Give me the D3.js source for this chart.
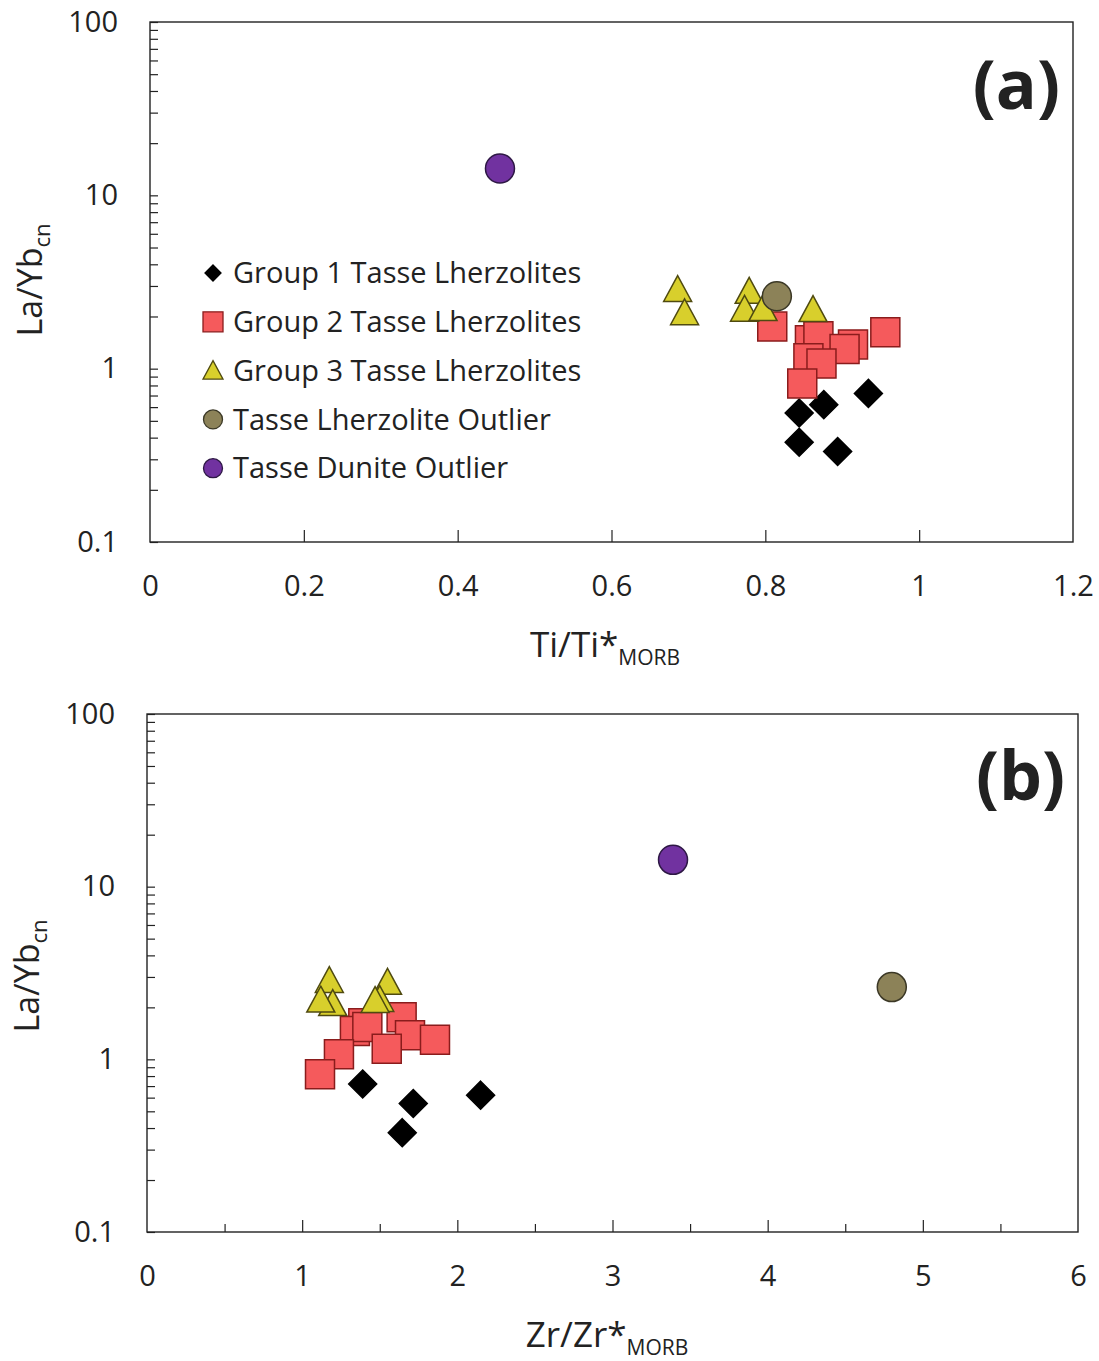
<!DOCTYPE html>
<html>
<head>
<meta charset="utf-8">
<script src="https://cdn.jsdelivr.net/npm/d3@7"></script>
<style>
  body { margin: 0; background: #fff; }
  text { font-family: "Open Sans", sans-serif; fill: #222; }
</style>
</head>
<body>
<svg id="chart" width="1099" height="1361"></svg>
<script>
// series names
const groups = [
  "Group 1 Tasse Lherzolites",
  "Group 2 Tasse Lherzolites",
  "Group 3 Tasse Lherzolites",
  "Tasse Lherzolite Outlier",
  "Tasse Dunite Outlier"
];

// group 1 (diamonds)
const g1La = [0.555, 0.62, 0.72, 0.376, 0.333];
const g1Ti = [0.844, 0.876, 0.934, 0.844, 0.894];
const g1Zr = [1.716, 2.15, 1.39, 1.645, null];

// group 2 (squares)
const g2La = [1.75, 1.62, 1.46, 1.54, 1.38, 1.30, 1.15, 1.07, 0.82];
const g2Ti = [0.809, 0.956, 0.858, 0.869, 0.914, 0.903, 0.856, 0.873, 0.848];
const g2Zr = [1.641, 1.394, 1.34, 1.42, 1.695, 1.856, 1.545, 1.237, 1.115];

// group 3 (triangles)
const g3La = [2.86, 2.10, 2.79, 2.20, 2.22, 2.19];
const g3Ti = [0.686, 0.695, 0.779, 0.773, 0.797, 0.862];
const g3Zr = [1.175, 1.197, 1.55, 1.12, 1.50, 1.47];

// outliers
const lhzLa = [2.62], lhzTi = [0.815], lhzZr = [4.80];
const dunLa = [14.3], dunTi = [0.455], dunZr = [3.39];

const xTicksA = [0, 0.2, 0.4, 0.6, 0.8, 1, 1.2];
const xTicksB = [0, 1, 2, 3, 4, 5, 6];
const yDecades = [0.1, 1, 10, 100];

const styles = [
  { shape: "diamond", fill: "#000", stroke: "#000" },
  { shape: "square", fill: "#f55a5c", stroke: "#8a1c1c" },
  { shape: "triangle", fill: "#d8cf2c", stroke: "#4f4a10" },
  { shape: "circle", fill: "#8c8258", stroke: "#3b3826" },
  { shape: "circle", fill: "#7132a0", stroke: "#2e1845" }
];

const series = [
  { la: g1La, ti: g1Ti, zr: g1Zr },
  { la: g2La, ti: g2Ti, zr: g2Zr },
  { la: g3La, ti: g3Ti, zr: g3Zr },
  { la: lhzLa, ti: lhzTi, zr: lhzZr },
  { la: dunLa, ti: dunTi, zr: dunZr }
];

const svg = d3.select("#chart");

// marker path around 0,0
function marker(shape, s) {
  if (shape === "diamond") return `M0,${-s}L${s},0L0,${s}L${-s},0Z`;
  if (shape === "square") return `M${-s},${-s}H${s}V${s}H${-s}Z`;
  if (shape === "triangle") return `M0,${-s * 1.0}L${s},${s * 0.85}L${-s},${s * 0.85}Z`;
  return d3.arc()({ innerRadius: 0, outerRadius: s, startAngle: 0, endAngle: 2 * Math.PI });
}
const markerSize = { diamond: 14, square: 14.5, triangle: 14, circle: 14.5 };
const legendSize = { diamond: 8, square: 10, triangle: 10, circle: 9.5 };

function drawPanel(opt) {
  const w = opt.right - opt.left, h = opt.bottom - opt.top;
  const g = svg.append("g").attr("transform", `translate(${opt.left},${opt.top})`);
  const x = d3.scaleLinear().domain(opt.xDomain).range([0, w]);
  const y = d3.scaleLog().domain([0.1, 100]).range([h, 0]);

  // y ticks (minor + major, pointing inward)
  const yTicks = [];
  [0.1, 1, 10].forEach(d => { for (let k = 1; k < 10; k++) yTicks.push(+(d * k).toPrecision(3)); });
  yTicks.push(100);
  const yAxis = g.append("g").call(
    d3.axisLeft(y).tickValues(yTicks).tickSize(-8).tickSizeOuter(0).tickPadding(32)
      .tickFormat(d => yDecades.includes(d) ? String(d) : "")
  );
  yAxis.select(".domain").remove();
  yAxis.selectAll("line").attr("stroke", "#222").attr("stroke-width", 1.2);
  yAxis.selectAll("text").style("font-size", "29px").style("font-family", "Open Sans").attr("fill", "#222");

  // x ticks
  const xAxis = g.append("g").attr("transform", `translate(0,${h})`).call(
    d3.axisBottom(x).tickValues(opt.xMinor.concat(opt.xTicks)).tickSize(-12).tickSizeOuter(0).tickPadding(33)
      .tickFormat(d => opt.xTicks.includes(d) ? String(d) : "")
  );
  xAxis.select(".domain").remove();
  xAxis.selectAll("line").attr("stroke", "#222").attr("stroke-width", 1.2);
  xAxis.selectAll(".tick").filter(d => !opt.xTicks.includes(d)).select("line").attr("y2", -8);
  xAxis.selectAll(".tick").filter(d => d === opt.xDomain[0] || d === opt.xDomain[1]).select("line").remove();
  xAxis.selectAll("text").style("font-size", "29px").style("font-family", "Open Sans").attr("fill", "#222");

  // frame
  g.append("rect").attr("width", w).attr("height", h)
    .attr("fill", "none").attr("stroke", "#222").attr("stroke-width", 1.4);

  // points
  series.forEach((s, i) => {
    const st = styles[i];
    const pts = s.la.map((v, j) => ({ xv: s[opt.field][j], yv: v })).filter(p => p.xv != null);
    g.selectAll(null).data(pts).join("path")
      .attr("d", marker(st.shape, markerSize[st.shape]))
      .attr("transform", p => `translate(${x(p.xv)},${y(p.yv)})`)
      .attr("fill", st.fill)
      .attr("stroke", st.stroke)
      .attr("stroke-width", 1.5);
  });

  // panel tag
  g.append("text").text(opt.tag)
    .attr("x", w - 13).attr("y", opt.tagY)
    .attr("text-anchor", "end")
    .style("font-size", "68px").style("font-weight", "bold").attr("fill", "#000");

  // y label
  const yl = svg.append("text")
    .attr("transform", `translate(${opt.left - 108},${opt.top + opt.yLabelY}) rotate(-90)`)
    .attr("text-anchor", "middle")
    .style("font-size", "34px");
  yl.append("tspan").text("La/Yb");
  yl.append("tspan").text("cn").style("font-size", "22px").attr("dy", 8);

  // x label
  const xl = svg.append("text")
    .attr("x", opt.left + opt.xLabelX).attr("y", opt.bottom + 115)
    .attr("text-anchor", "middle")
    .style("font-size", "35px");
  xl.append("tspan").text(opt.xLabel);
  xl.append("tspan").text("MORB").style("font-size", "21px").attr("dy", 8);

  return g;
}

const gA = drawPanel({
  left: 150, top: 22, right: 1073, bottom: 542,
  xDomain: [0, 1.2], xTicks: xTicksA, xMinor: [], field: "ti",
  tag: "(a)", tagY: 87, yLabelY: 258, xLabelX: 455, xLabel: "Ti/Ti*"
});
drawPanel({
  left: 147, top: 714, right: 1078, bottom: 1232,
  xDomain: [0, 6], xTicks: xTicksB, xMinor: [0.5, 1.5, 2.5, 3.5, 4.5, 5.5], field: "zr",
  tag: "(b)", tagY: 86, yLabelY: 262, xLabelX: 460, xLabel: "Zr/Zr*"
});

// legend in panel (a)
const legend = gA.append("g").attr("transform", "translate(63,251)");
groups.forEach((name, i) => {
  const st = styles[i];
  const row = legend.append("g").attr("transform", `translate(0,${i * 48.8})`);
  row.append("path")
    .attr("d", marker(st.shape, legendSize[st.shape]))
    .attr("fill", st.fill).attr("stroke", st.stroke).attr("stroke-width", 1.3);
  row.append("text").text(name)
    .attr("x", 20).attr("y", 0).attr("dy", "0.35em")
    .style("font-size", "29px");
});
</script>
</body>
</html>
